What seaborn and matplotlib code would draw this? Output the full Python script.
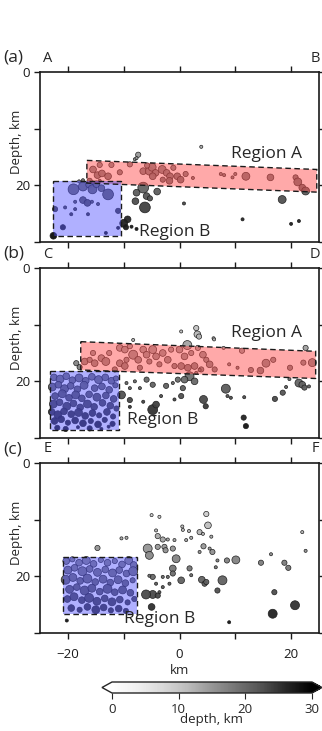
import matplotlib
matplotlib.use('Agg')
import matplotlib.pyplot as plt
from matplotlib.patches import Polygon
from matplotlib.cm import ScalarMappable
from matplotlib.colors import Normalize
import seaborn as sns
import pandas as pd

# ---- panel (a): distance along profile (km), depth (km), magnitude ----
a_x = [-19.0, -17.3, -16.2, -15.6, -14.9, -14.0, -12.8, -17.3, -16.5, -18.7, -15.7, -14.6,
       -22.3, -20.5, -18.7, -19.4, -16.4, -11.0, -20.9, -13.2, -22.6, -11.0, -18.0, -17.3,
       -15.5, -14.7, -13.9, -12.8, -14.3, -12.2, -16.1, -15.5, -14.3, -10.7, -8.9, -8.0, -7.4, -7.7,
       -6.5, -5.4, -4.9, -4.3, -3.1, -2.3, -1.7, -5.8, -4.8, -3.0, -1.8, -1.1, -0.4, 0.2, 1.1, 2.4,
       7.4, 8.0, 9.5, 10.0, 11.9, 16.3, 20.8, 21.2, 22.0, 22.6,
       3.9, -6.5, -5.9, -7.7, -4.0, -5.3, -7.9, -6.2, 0.8, 18.4, 11.3, 20.0, 21.4, -9.3, -10.0,
       -9.6, -7.7, -8.6]
a_depth = [20.7, 20.2, 19.9, 20.7, 19.8, 20.5, 21.6, 22.6, 23.1, 22.9, 22.9, 23.3,
           24.2, 23.9, 24.2, 25.1, 25.1, 24.5, 27.4, 28.4, 28.9, 27.5, 19.3, 19.1,
           17.2, 18.2, 17.9, 18.4, 16.4, 16.4, 19.2, 19.5, 19.2, 17.7, 16.3, 15.4, 14.6, 15.2,
           17.5, 17.5, 16.8, 17.8, 17.2, 17.8, 18.4, 16.5, 18.4, 19.0, 19.2, 16.9, 18.4, 19.0, 18.0, 18.7,
           18.0, 18.2, 18.6, 18.0, 18.4, 18.6, 18.6, 19.4, 20.4, 21.0,
           13.2, 20.4, 21.9, 21.3, 21.1, 22.3, 22.8, 23.9, 23.2, 22.5, 26.0, 26.8, 26.3, 26.0, 26.7,
           27.4, 27.7, 27.3]
a_mag = [4, 3, 2, 3, 2, 2, 4, 2, 2, 1, 1, 1,
         1.5, 1, 1, 1, 1, 1.5, 1.5, 1, 2, 1, 1, 1,
         2, 2, 2, 2, 1.5, 1.5, 1.5, 1, 1, 1.5, 1.5, 1, 1.5, 1,
         2, 2.5, 2.5, 2, 2.5, 2, 2, 1.5, 2, 1.5, 2, 1.5, 2, 2, 1.5, 1,
         1, 1, 1, 1, 2.5, 2, 1.5, 2.5, 2, 2.5,
         1, 4, 2, 2, 2, 1.5, 2, 4, 1, 2.5, 1, 1, 1, 2, 2.5,
         1.5, 1, 1]

# ---- panel (b) ----
b_x = [-22.5, -21.4, -20.3, -19.2, -18.0, -16.8, -15.7, -14.5, -13.3, -12.2, -11.4,
       -22.8, -21.7, -20.6, -19.5, -18.3, -17.1, -15.2, -13.9, -12.6, -11.5,
       -22.3, -21.0, -19.8, -18.6, -17.5, -16.2, -14.8, -13.2, -11.8,
       -22.6, -21.5, -20.2, -19.0, -17.8, -16.5, -15.3, -13.8, -12.4, -11.3,
       -22.9, -21.8, -20.7, -19.4, -18.1, -16.9, -15.6, -14.4, -13.0, -11.9,
       -22.4, -21.2, -20.0, -18.7, -17.3, -15.9, -14.6, -13.4, -12.0,
       -21.9, -20.4, -18.2, -16.1, -14.0, -12.7,
       -17.0, -16.1, -15.2, -15.5, -14.0, -13.2, -12.6, -10.7, -9.8, -8.9, -8.3, -7.4, -6.5, -5.9,
       -5.4, -4.8, -4.2, -3.6, -3.0, -2.1, -1.5, -0.9, -10.7, -9.8, -7.1, -9.5, -11.6,
       0.0, 0.9, 2.1, 3.3, 4.2, 4.8, 5.4, 6.3, 2.7, 1.5, 3.9, 0.3, 7.9, 8.9, 10.4, 11.2, 12.8,
       14.5, 15.5, 16.8, 19.8, 22.2, 23.8,
       0.3, 3.0, 3.2, 1.4, 6.1, 3.5, 6.2, 22.6, -8.3, -18.5, -17.9,
       -9.5, -8.9, -8.0, -7.1, -5.9, -4.8, -10.4, -8.9, -6.5, -4.8, -4.2, -3.3, -2.4, -1.2, -8.9,
       1.8, 0.9, 2.7, 0.6, 3.0, 3.6, -0.3, 8.3, 8.6, 9.2, 11.6, 4.3, 4.7, 0.3, -0.9, 17.1, 18.5,
       19.1, 19.7, 21.4, 22.0, 22.4, 23.2, 11.5, 11.9]
b_depth = [19.3, 19.6, 19.1, 19.8, 19.4, 19.9, 19.2, 19.7, 19.3, 19.9, 19.5,
           21.0, 20.6, 21.3, 20.8, 21.4, 20.7, 21.2, 20.9, 21.5, 20.7,
           22.6, 22.2, 22.9, 22.4, 23.0, 22.3, 22.8, 22.5, 23.1,
           24.0, 23.7, 24.4, 23.9, 24.6, 24.0, 24.5, 23.8, 24.3, 24.8,
           25.4, 25.9, 25.3, 25.8, 25.5, 26.1, 25.6, 26.0, 25.4, 26.2,
           27.0, 26.7, 27.3, 26.9, 27.4, 27.0, 27.6, 26.8, 27.5,
           28.2, 28.4, 28.1, 28.3, 28.4, 28.0,
           16.5, 16.2, 16.8, 15.0, 15.9, 16.5, 15.0, 14.1, 14.4, 13.8, 15.3, 16.2, 14.4, 15.3,
           16.5, 14.4, 15.6, 17.0, 15.0, 16.2, 14.4, 17.3, 16.8, 17.3, 17.6, 16.2, 17.9,
           14.4, 15.6, 15.0, 14.1, 15.3, 16.2, 17.0, 17.9, 17.3, 17.6, 17.9, 17.3, 14.1, 17.0, 17.6, 14.6, 18.0,
           18.1, 16.8, 16.2, 17.6, 16.7, 16.7,
           11.2, 10.6, 11.7, 13.6, 12.4, 12.1, 12.6, 14.1, 12.7, 16.8, 17.5,
           20.3, 21.2, 20.0, 21.2, 19.7, 20.6, 22.4, 23.3, 23.6, 25.0, 24.1, 22.6, 20.8, 20.3, 24.5,
           19.1, 19.7, 20.0, 21.2, 18.5, 18.0, 19.7, 21.3, 22.6, 22.9, 22.8, 23.2, 24.4, 22.6, 23.2, 23.1, 22.0,
           21.0, 19.6, 20.3, 20.6, 21.1, 20.9, 26.4, 27.9]
b_mag = [2, 2.5, 2, 2, 2.5, 2, 2, 2.5, 2, 2, 1.5,
         2.5, 2, 2.5, 2, 2, 2.5, 2, 2, 2, 1.5,
         2, 2.5, 2, 2.5, 2, 2, 2.5, 2, 2,
         2.5, 2, 2.5, 2, 2, 2.5, 2, 2, 2, 1.5,
         2, 2.5, 2, 2, 2.5, 2, 2, 1.5, 2, 1.5,
         2, 2, 1.5, 2, 2, 1.5, 2, 1.5, 1.5,
         1.5, 1.5, 1, 1.5, 1, 1,
         2, 1.5, 2, 1.5, 2, 2.5, 1.5, 2, 2, 1.5, 3, 2, 2, 2,
         1.5, 2.5, 2, 1.5, 2, 2, 1.5, 1.5, 2, 2, 1.5, 1.5, 1.5,
         2, 2, 1.5, 1.5, 2, 1.5, 2, 1.5, 2, 2, 1.5, 2, 1, 1, 1, 1.5, 1.5,
         2, 2.5, 1.5, 1.5, 1.5, 2.5,
         1, 1.5, 2, 3, 1, 1.5, 1, 1.5, 1, 1.5, 1.5,
         1, 1, 1, 1, 1.5, 1.5, 2.5, 1.5, 1, 3.5, 2, 1, 1.5, 1, 1,
         3, 2, 2, 1.5, 1, 1, 1.5, 3, 1, 1, 1, 2.5, 1.5, 1.5, 1, 1.5, 1.5,
         1, 1, 2.5, 2, 1.5, 1, 1.5, 1.5]

# ---- panel (c) ----
c_x = [-20.3, -19.2, -18.0, -16.7, -15.4, -14.1, -12.9, -11.6, -10.3, -9.1, -8.2,
       -20.0, -18.8, -17.4, -16.1, -14.7, -13.3, -12.0, -10.8, -9.5, -8.3,
       -20.4, -19.1, -17.8, -16.5, -15.1, -13.7, -12.4, -11.0, -9.7, -8.4,
       -19.7, -18.4, -17.0, -15.7, -14.3, -12.9, -11.6, -10.2, -8.8,
       -20.1, -18.9, -17.5, -16.2, -14.8, -13.4, -12.1, -10.7, -9.3, -8.1,
       -19.4, -17.9, -16.5, -15.0, -13.6, -12.3, -10.9, -9.6,
       -5.0, -3.6, -4.2, -3.9, -3.0, -2.1, -0.9, 0.5, 0.6, 1.7, 2.1, 1.2, 4.8, 5.1, 3.6,
       4.2, 5.7, 4.3, 3.6, 5.9, 6.8, 5.4, 8.5, 10.1, 14.6, 16.4, 18.8, 19.5, 22.0, 22.6,
       -10.4, -9.5, -14.7, -5.7, -5.4, -3.9, -2.7, -1.2, -2.5, -0.6, -1.2, -1.2, 1.8, 2.1, 0.3,
       4.0, 4.5, 4.8, 7.7, 6.8, 6.5, -2.1, -3.0, -4.8, -5.4, -4.2, -3.0, -3.6, -4.8, -6.0,
       -3.9, -5.0, -1.8, 17.0, 16.7, 20.7, 8.9, -20.2]
c_depth = [17.3, 17.0, 17.6, 17.2, 17.8, 17.1, 17.6, 17.3, 17.9, 17.2, 18.0,
           18.9, 18.5, 19.1, 18.7, 19.3, 18.8, 19.4, 18.9, 19.5, 19.1,
           20.6, 20.2, 20.8, 20.4, 21.0, 20.5, 21.1, 20.6, 21.2, 20.7,
           22.3, 21.9, 22.5, 22.1, 22.7, 22.2, 22.8, 22.4, 22.9,
           24.0, 23.6, 24.2, 23.8, 24.4, 23.9, 24.5, 24.1, 24.6, 24.0,
           25.6, 25.9, 25.4, 25.9, 25.5, 26.0, 25.7, 26.1,
           9.2, 9.5, 11.9, 12.9, 13.5, 13.5, 13.6, 11.2, 11.8, 12.0, 13.2, 13.6, 9.0, 11.0, 12.2,
           12.5, 13.0, 14.7, 15.7, 15.7, 17.2, 15.1, 17.2, 17.1, 17.6, 16.1, 17.6, 18.5, 12.2, 15.5,
           13.3, 13.2, 15.0, 15.1, 16.3, 14.8, 14.8, 15.1, 15.4, 16.9, 18.6, 19.5, 18.6, 19.8, 20.7,
           20.6, 21.3, 21.0, 20.7, 22.5, 18.4, 20.1, 20.1, 20.1, 19.9, 21.3, 21.9, 22.8, 23.2, 23.2,
           23.4, 25.4, 21.3, 22.8, 26.6, 25.1, 28.1, 27.8]
c_mag = [2, 1.5, 2, 2.5, 2, 1.5, 2, 1.5, 2, 2.5, 2,
         2.5, 2, 3, 2, 2.5, 2, 2.5, 2, 2, 3,
         3, 2.5, 2, 3, 2, 2.5, 2, 2.5, 2, 1.5,
         2.5, 2, 3, 2.5, 2, 3, 2, 2.5, 2,
         2, 2.5, 2, 3, 2.5, 2, 2.5, 2, 1.5, 1.5,
         2, 1.5, 2, 2.5, 2, 1.5, 2, 1.5,
         1, 1, 1, 1.5, 1.5, 1, 1, 1, 1, 1, 1, 1, 1.5, 2, 1.5,
         1, 1, 1.5, 1, 1.5, 1, 1, 1.5, 2.5, 1.5, 1, 1.5, 1.5, 1, 1,
         1, 1, 1.5, 3, 2.5, 1.5, 1.5, 1.5, 1.5, 2.5, 2, 1.5, 1.5, 1, 2,
         2, 1.5, 1.5, 3, 1.5, 1, 1, 1, 1.5, 1, 1, 1, 1, 2.5, 3,
         1.5, 2, 1, 1.5, 3, 3, 1, 1]

# region outlines (distance km, depth km)
a_region_a = [(-16.6, 15.6), (24.6, 17.2), (24.6, 21.2), (-16.6, 19.6)]
a_region_b = [(-22.7, 19.2), (-10.4, 19.2), (-10.4, 29.0), (-22.7, 29.0)]
b_region_a = [(-17.7, 13.0), (24.4, 14.7), (24.4, 19.5), (-17.7, 18.0)]
b_region_b = [(-23.2, 18.2), (-10.8, 18.2), (-10.8, 28.6), (-23.2, 28.6)]
c_region_b = [(-20.8, 16.5), (-7.6, 16.5), (-7.6, 26.6), (-20.8, 26.6)]

panels = [
    ('(a)', 'A', 'B', a_x, a_depth, a_mag, a_region_a, a_region_b, (9.2, 14.4), (-7.2, 28.2)),
    ('(b)', 'C', 'D', b_x, b_depth, b_mag, b_region_a, b_region_b, (9.2, 11.5), (-9.4, 26.9)),
    ('(c)', 'E', 'F', c_x, c_depth, c_mag, None, c_region_b, None, (-10.0, 27.5)),
]

sns.set_style('white')
plt.rcParams['font.family'] = ['Open Sans', 'DejaVu Sans']

fig = plt.figure(figsize=(3.22, 7.31), dpi=100)
W, H = 322, 731
tops = [72, 268, 463]
norm = Normalize(0, 30)

for i, (tag, left_lbl, right_lbl, xs, ds, ms, reg_a, reg_b, pos_a, pos_b) in enumerate(panels):
    top = tops[i]
    ax = fig.add_axes([40 / W, (H - top - 170) / H, 279 / W, 170 / H])
    df = pd.DataFrame({'x': xs, 'depth': ds, 'mag': ms})
    sns.scatterplot(data=df, x='x', y='depth', hue='depth', palette='Greys', hue_norm=(0, 30),
                    size='mag', sizes=(5, 60), size_norm=(1, 4), edgecolor='0.1',
                    linewidth=0.5, alpha=0.95, legend=False, ax=ax, zorder=2)

    for reg, col, al in [(reg_a, (1.0, 0.3, 0.3), 0.48), (reg_b, (0.33, 0.33, 1.0), 0.46)]:
        if reg is None:
            continue
        ax.add_patch(Polygon(reg, closed=True, facecolor=col, edgecolor='none', alpha=al, zorder=3))
        ax.add_patch(Polygon(reg, closed=True, fill=False, edgecolor='0.1', lw=1.0,
                             linestyle=(0, (4, 2.5)), zorder=4))
    if pos_a is not None:
        ax.text(pos_a[0], pos_a[1], 'Region A', fontsize=12.5, ha='left', va='center', zorder=5)
    ax.text(pos_b[0], pos_b[1], 'Region B', fontsize=12.5, ha='left', va='center', zorder=5)

    ax.set_xlim(-25, 25)
    ax.set_ylim(30, 0)
    ax.set_xticks([-20, 0, 20])
    ax.set_xticks([-10, 10], minor=True)
    ax.set_yticks([0, 20])
    ax.set_yticks([10, 30], minor=True)
    ax.tick_params(which='both', direction='out', length=4, width=1, top=True, right=True,
                   bottom=True, left=True, labelsize=9.5, pad=3, colors='0.1')
    ax.tick_params(axis='x', pad=7)
    for sp in ax.spines.values():
        sp.set_linewidth(1.2)
        sp.set_color('0.1')
    ax.set_ylabel('Depth, km', fontsize=9.5)
    ax.yaxis.set_label_coords(-0.062, 0.59)
    if i < 2:
        ax.set_xticklabels([])
        ax.set_xlabel('')
    else:
        ax.set_xlabel('km', fontsize=9.5, labelpad=2)

    ty = (H - (top - 14)) / H
    fig.text(3 / W, ty, tag, fontsize=12.5, ha='left', va='center')
    fig.text(48 / W, ty, left_lbl, fontsize=10.5, ha='center', va='center')
    fig.text(315 / W, ty, right_lbl, fontsize=10.5, ha='center', va='center')

cax = fig.add_axes([102 / W, 38 / H, 220 / W, 11 / H])
sm = ScalarMappable(norm=norm, cmap='Greys')
cb = fig.colorbar(sm, cax=cax, orientation='horizontal', extend='both', ticks=[0, 10, 20, 30])
cb.outline.set_linewidth(1)
cb.ax.tick_params(labelsize=9.5, direction='out', length=4, pad=3)
fig.text(212 / W, 12 / H, 'depth, km', fontsize=9.5, ha='center', va='center')

fig.savefig('out.png', dpi=100)
